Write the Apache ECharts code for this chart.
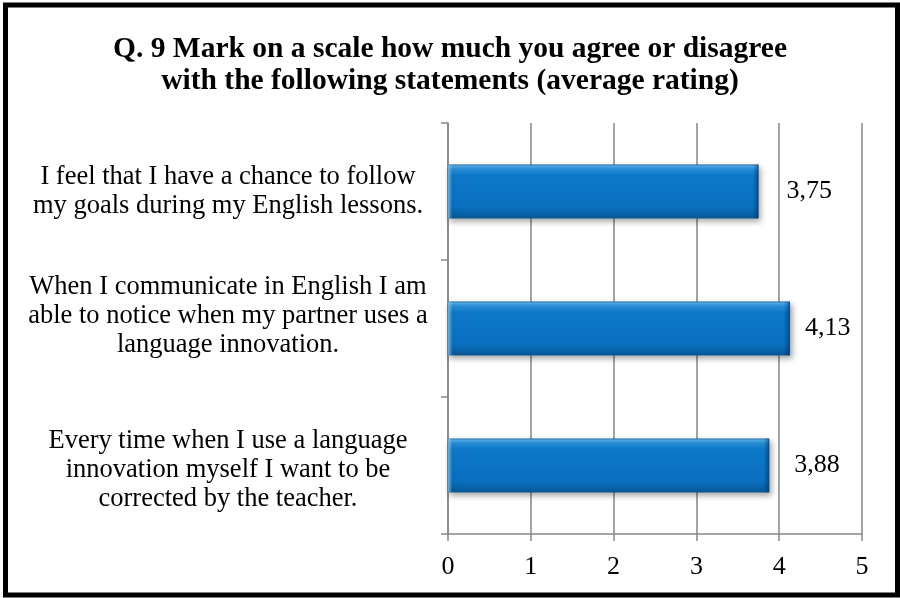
<!DOCTYPE html>
<html>
<head>
<meta charset="utf-8">
<style>
  html, body { margin: 0; padding: 0; background: #fff; }
  #chart { width: 900px; height: 598px; }
</style>
<script src="https://cdn.jsdelivr.net/npm/echarts@6/dist/echarts.min.js"></script>
</head>
<body>
<div id="chart"></div>
<script>
// Statements (top to bottom) and their average ratings
const categories = [
  'I feel that I have a chance to follow\nmy goals during my English lessons.',
  'When I communicate in English I am\nable to notice when my partner uses a\nlanguage innovation.',
  'Every time when I use a language\ninnovation myself I want to be\ncorrected by the teacher.'
];
const ratings = [3.75, 4.13, 3.88];
const valueLabels = ['3,75', '4,13', '3,88'];
const xTicks = [0, 1, 2, 3, 4, 5];

// layout tweaks: gap between bar end and value label,
// spacer height above (+) or below (-) each category label
const labelGap = [28, 15, 25];
const categorySpacer = [0, -24, 10];

const serif = 'Liberation Serif';
const gridGray = '#868686';

const chart = echarts.init(document.getElementById('chart'));

const barFill = new echarts.graphic.LinearGradient(0, 0, 0, 1, [
  { offset: 0, color: '#6BBDF2' },
  { offset: 0.08, color: '#2C92DC' },
  { offset: 0.2, color: '#0C78C9' },
  { offset: 0.78, color: '#0A70C0' },
  { offset: 0.9, color: '#0864AC' },
  { offset: 1, color: '#0A5692' }
]);
const bevelEnds = new echarts.graphic.LinearGradient(0, 0, 1, 0, [
  { offset: 0, color: 'rgba(140,205,245,0.75)' },
  { offset: 0.014, color: 'rgba(140,205,245,0)' },
  { offset: 0.982, color: 'rgba(0,40,90,0)' },
  { offset: 1, color: 'rgba(0,40,90,0.5)' }
]);

// wrap each line of a category label in rich-text tokens, with an optional spacer line
function categoryLabel(value, index) {
  const body = value.split('\n').map(l => '{t|' + l + '}').join('\n');
  const s = categorySpacer[index] || 0;
  if (s > 0) return '{s' + s + '| }\n' + body;
  if (s < 0) return body + '\n{s' + (-s) + '| }';
  return body;
}
const spacerRich = {};
categorySpacer.forEach(s => {
  if (s) spacerRich['s' + Math.abs(s)] = { fontSize: 2, lineHeight: Math.abs(s) };
});

chart.setOption({
  animation: false,
  backgroundColor: '#fff',
  textStyle: { fontFamily: serif },
  title: {
    text: 'Q. 9 Mark on a scale how much you agree or disagree\nwith the following statements (average rating)',
    left: 'center',
    top: 28,
    textStyle: {
      fontFamily: serif,
      fontWeight: 'bold',
      fontSize: 29.5,
      lineHeight: 32,
      color: '#000'
    }
  },
  graphic: [{
    type: 'rect',
    shape: { x: 5.5, y: 5, width: 892, height: 590 },
    style: { fill: 'none', stroke: '#000', lineWidth: 5 },
    z: 100
  }],
  grid: { left: 448, right: 38, top: 123, bottom: 64, outerBoundsMode: 'none' },
  xAxis: {
    type: 'value',
    min: xTicks[0],
    max: xTicks[xTicks.length - 1],
    interval: 1,
    axisLine: { show: true, lineStyle: { color: gridGray, width: 1.5 } },
    axisTick: { show: true, length: 7, lineStyle: { color: gridGray, width: 1.5 } },
    splitLine: { show: true, lineStyle: { color: gridGray, width: 1.5 } },
    axisLabel: {
      fontFamily: serif, fontSize: 26, color: '#000', margin: 20,
      formatter: v => String(v)
    }
  },
  yAxis: {
    type: 'category',
    inverse: true,
    data: categories,
    axisLine: { show: true, lineStyle: { color: gridGray, width: 1.5 } },
    axisTick: { show: true, length: 7, lineStyle: { color: gridGray, width: 1.5 } },
    axisLabel: {
      fontFamily: serif, fontSize: 26.5, lineHeight: 29, color: '#000',
      align: 'center', margin: 220,
      formatter: categoryLabel,
      rich: Object.assign({
        t: { fontFamily: serif, fontSize: 26.5, lineHeight: 29, color: '#000', align: 'center' }
      }, spacerRich)
    }
  },
  series: [
    {
      type: 'bar',
      data: ratings.map((v, i) => ({
        value: v,
        label: { distance: labelGap[i] }
      })),
      barWidth: 54,
      itemStyle: {
        color: barFill,
        borderColor: '#0A5A98',
        borderWidth: 0.8,
        shadowColor: 'rgba(0,0,0,0.35)',
        shadowBlur: 6,
        shadowOffsetX: 2,
        shadowOffsetY: 3
      },
      label: {
        show: true,
        position: 'right',
        fontFamily: serif,
        fontSize: 26,
        color: '#000',
        formatter: p => valueLabels[p.dataIndex]
      },
      z: 2
    },
    {
      type: 'bar',
      data: ratings,
      barWidth: 54,
      barGap: '-100%',
      silent: true,
      itemStyle: { color: bevelEnds },
      z: 3
    }
  ]
});
</script>
</body>
</html>
